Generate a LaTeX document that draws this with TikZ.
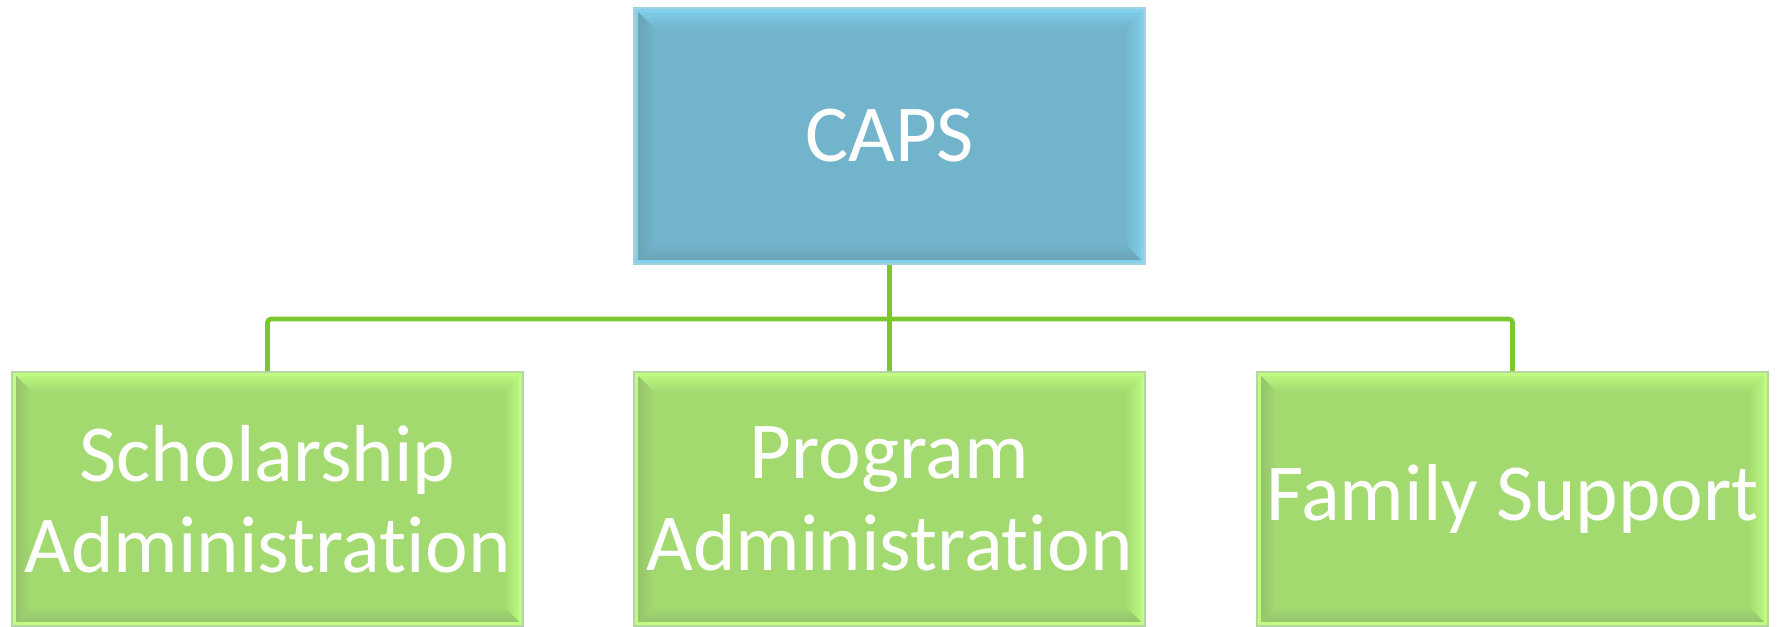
\documentclass[tikz,border=0pt]{standalone}
\usepackage{fontspec}
\setmainfont{Carlito}[Ligatures=NoCommon]
\definecolor{capsblue}{RGB}{114,180,204}
\definecolor{capslight}{RGB}{130,210,238}
\definecolor{capsdark}{RGB}{104,158,176}
\definecolor{capsedge}{RGB}{160,210,228}
\definecolor{unitgreen}{RGB}{163,218,112}
\definecolor{unitlight}{RGB}{192,252,130}
\definecolor{unitdark}{RGB}{146,190,106}
\definecolor{unitedge}{RGB}{180,214,160}
\definecolor{linkgreen}{RGB}{122,200,44}
\usetikzlibrary{positioning,calc}

\begin{document}
\begin{tikzpicture}[
  bevel/.style n args={3}{path picture={
    \coordinate (nw) at (path picture bounding box.north west);
    \coordinate (ne) at (path picture bounding box.north east);
    \coordinate (sw) at (path picture bounding box.south west);
    \coordinate (se) at (path picture bounding box.south east);
    \shade[top color=#1,bottom color=#3] (nw) -- (ne) -- ($(ne)+(-0.2,-0.2)$) -- ($(nw)+(0.2,-0.2)$) -- cycle;
    \shade[right color=#1,left color=#3] (ne) -- (se) -- ($(se)+(-0.2,0.2)$) -- ($(ne)+(-0.2,-0.2)$) -- cycle;
    \shade[bottom color=#2,top color=#3] (sw) -- (se) -- ($(se)+(-0.2,0.2)$) -- ($(sw)+(0.2,0.2)$) -- cycle;
    \shade[left color=#2,right color=#3] (nw) -- (sw) -- ($(sw)+(0.2,0.2)$) -- ($(nw)+(0.2,-0.2)$) -- cycle;
    \draw[#1,line width=1pt] ($(nw)+(0.02,-0.02)$) rectangle ($(se)+(-0.02,0.02)$);
  }},
  caps/.style={draw=capsedge,line width=0.6pt,fill=capsblue,minimum width=5.11cm,minimum height=2.56cm,inner sep=1pt,align=center,text=white,font=\fontsize{23}{26}\selectfont,bevel={capslight}{capsdark}{capsblue}},
  unit/.style={draw=unitedge,line width=0.6pt,fill=unitgreen,minimum width=5.11cm,minimum height=2.54cm,inner sep=1pt,align=center,text=white,font=\fontsize{23}{26}\selectfont,bevel={unitlight}{unitdark}{unitgreen}},
  link/.style={line width=1.3pt,color=linkgreen,rounded corners=1pt}
]
\useasboundingbox (0,0) rectangle (17.85,6.27);

\node[caps] (caps) at (8.895,4.91) {CAPS};
\node[unit] (scholar) at (2.675,1.28) {Scholarship\\Administration};
\node[unit] (program) at (8.895,1.28) {Program\\Administration};
\node[unit] (family) at (15.125,1.28) {Family Support};

\coordinate (bus) at (8.895,3.08);
\draw[link] (caps.south) -- (program.north);
\draw[link] (scholar.north) |- (bus) -| (family.north);
\end{tikzpicture}
\end{document}
